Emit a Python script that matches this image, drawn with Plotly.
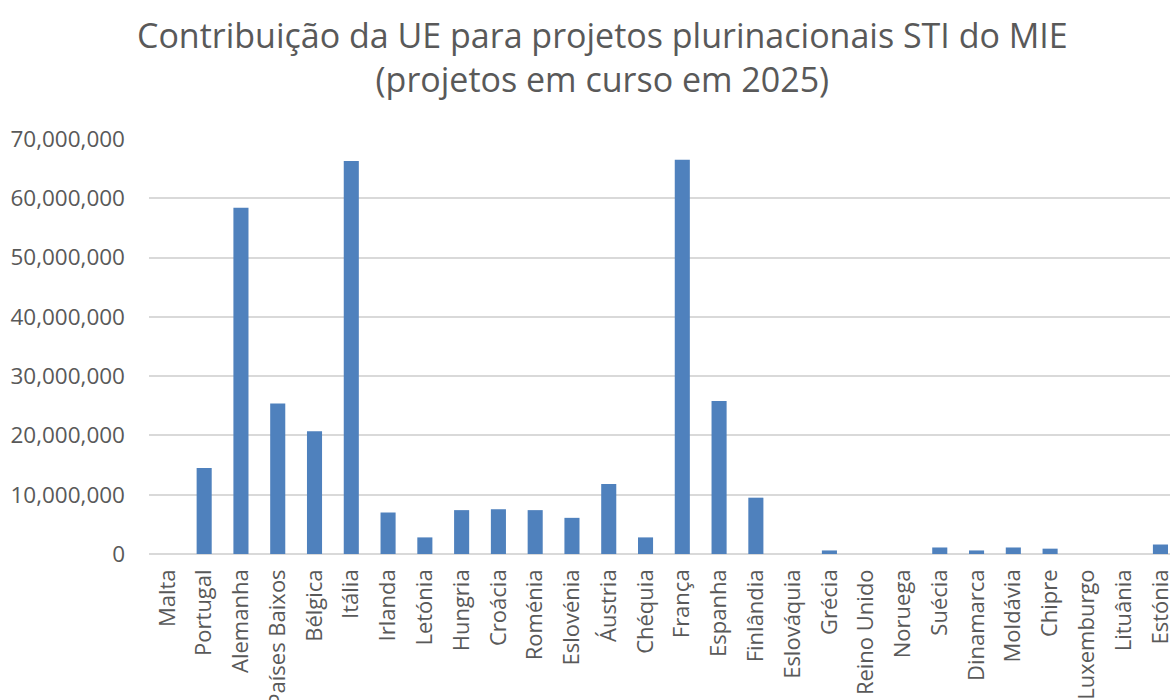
import plotly.graph_objects as go

countries = ["Malta", "Portugal", "Alemanha", "Países Baixos", "Bélgica", "Itália",
             "Irlanda", "Letónia", "Hungria", "Croácia", "Roménia", "Eslovénia",
             "Áustria", "Chéquia", "França", "Espanha", "Finlândia", "Eslováquia",
             "Grécia", "Reino Unido", "Noruega", "Suécia", "Dinamarca", "Moldávia",
             "Chipre", "Luxemburgo", "Lituânia", "Estónia"]
values = [0, 14500000, 58400000, 25400000, 20700000, 66300000,
          7000000, 2800000, 7400000, 7550000, 7400000, 6100000,
          11800000, 2800000, 66500000, 25800000, 9500000, 0,
          600000, 0, 0, 1100000, 600000, 1100000,
          900000, 0, 0, 1600000]
y_ticks = [0, 10000000, 20000000, 30000000, 40000000, 50000000, 60000000, 70000000]
title_text = "Contribuição da UE para projetos plurinacionais STI do MIE<br>(projetos em curso em 2025)"

W, H = 1170, 700
ML, MT, MB = 149, 139, 146
plot_h = H - MT - MB
plot_w = W - ML

fig = go.Figure(go.Bar(x=countries, y=values, marker=dict(color="#4F81BD", line=dict(width=0))))

fig.update_layout(
    width=W, height=H,
    margin=dict(l=ML, r=0, t=MT, b=MB, autoexpand=False),
    paper_bgcolor="white", plot_bgcolor="white",
    font=dict(family="Open Sans", color="#595959", size=22),
    bargap=0.59,
    showlegend=False,
)
fig.add_annotation(text=title_text, xref="paper", yref="paper",
                   x=(602 - ML) / plot_w, xanchor="center",
                   y=1 + (MT - 10) / plot_h, yanchor="top", showarrow=False,
                   align="center", font=dict(size=34, color="#595959"))
fig.update_xaxes(range=[-0.5, 27.26], tickangle=-90, showgrid=False, showline=False,
                 ticks="", automargin=False, ticklabelstandoff=10)
fig.update_yaxes(range=[0, 70000000], tickvals=y_ticks, tickformat=",d",
                 tickfont=dict(size=22.5),
                 showgrid=True, gridcolor="#D9D9D9", gridwidth=2, zeroline=True,
                 zerolinecolor="#D9D9D9", zerolinewidth=2, showline=False, ticks="",
                 automargin=False, ticklabelstandoff=23)

fig.write_html("out.html", config={"displayModeBar": False},
               post_script="document.body.style.margin='0px';document.body.style.overflow='hidden';")
